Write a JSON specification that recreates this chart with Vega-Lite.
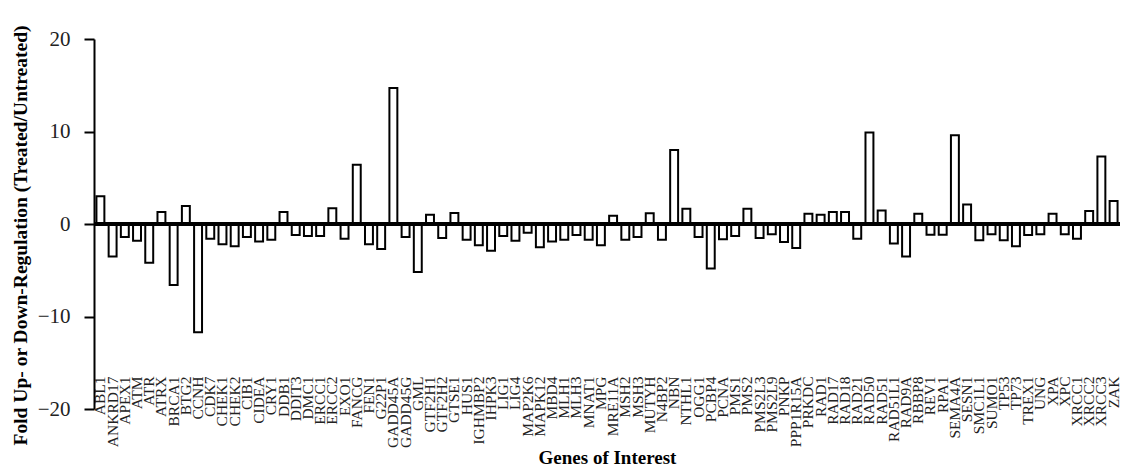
{
  "$schema": "https://vega.github.io/schema/vega-lite/v6.json",
  "autosize": {"type": "none"},
  "padding": {"left": 94, "top": 39, "right": 4, "bottom": 58},
  "width": 1026,
  "height": 370,
  "background": "white",
  "config": {"view": {"stroke": null}},
  "data": {"values": [
    {"gene": "ABL1", "value": 3.0},
    {"gene": "ANKRD17", "value": -3.5},
    {"gene": "APEX1", "value": -1.4},
    {"gene": "ATM", "value": -1.8},
    {"gene": "ATR", "value": -4.2},
    {"gene": "ATRX", "value": 1.3},
    {"gene": "BRCA1", "value": -6.6},
    {"gene": "BTG2", "value": 1.95},
    {"gene": "CCNH", "value": -11.7},
    {"gene": "CDK7", "value": -1.6},
    {"gene": "CHEK1", "value": -2.2},
    {"gene": "CHEK2", "value": -2.4},
    {"gene": "CIB1", "value": -1.4},
    {"gene": "CIDEA", "value": -1.9},
    {"gene": "CRY1", "value": -1.7},
    {"gene": "DDB1", "value": 1.3},
    {"gene": "DDIT3", "value": -1.2},
    {"gene": "DMC1", "value": -1.3},
    {"gene": "ERCC1", "value": -1.3},
    {"gene": "ERCC2", "value": 1.7},
    {"gene": "EXO1", "value": -1.6},
    {"gene": "FANCG", "value": 6.4},
    {"gene": "FEN1", "value": -2.2},
    {"gene": "G22P1", "value": -2.7},
    {"gene": "GADD45A", "value": 14.7},
    {"gene": "GADD45G", "value": -1.4},
    {"gene": "GML", "value": -5.2},
    {"gene": "GTF2H1", "value": 1.0},
    {"gene": "GTF2H2", "value": -1.5},
    {"gene": "GTSE1", "value": 1.2},
    {"gene": "HUS1", "value": -1.7},
    {"gene": "IGHMBP2", "value": -2.3},
    {"gene": "IHPK3", "value": -2.9},
    {"gene": "LIG1", "value": -1.3},
    {"gene": "LIG4", "value": -1.8},
    {"gene": "MAP2K6", "value": -0.95},
    {"gene": "MAPK12", "value": -2.5},
    {"gene": "MBD4", "value": -1.9},
    {"gene": "MLH1", "value": -1.7},
    {"gene": "MLH3", "value": -1.2},
    {"gene": "MNAT1", "value": -1.7},
    {"gene": "MPG", "value": -2.3},
    {"gene": "MRE11A", "value": 0.9},
    {"gene": "MSH2", "value": -1.7},
    {"gene": "MSH3", "value": -1.4},
    {"gene": "MUTYH", "value": 1.15},
    {"gene": "N4BP2", "value": -1.7},
    {"gene": "NBN", "value": 8.0},
    {"gene": "NTHL1", "value": 1.65},
    {"gene": "OGG1", "value": -1.4},
    {"gene": "PCBP4", "value": -4.8},
    {"gene": "PCNA", "value": -1.65},
    {"gene": "PMS1", "value": -1.3},
    {"gene": "PMS2", "value": 1.65},
    {"gene": "PMS2L3", "value": -1.5},
    {"gene": "PMS2L9", "value": -1.1},
    {"gene": "PNKP", "value": -1.95},
    {"gene": "PPP1R15A", "value": -2.6},
    {"gene": "PRKDC", "value": 1.1},
    {"gene": "RAD1", "value": 1.0},
    {"gene": "RAD17", "value": 1.3},
    {"gene": "RAD18", "value": 1.3},
    {"gene": "RAD21", "value": -1.6},
    {"gene": "RAD50", "value": 9.9},
    {"gene": "RAD51", "value": 1.45},
    {"gene": "RAD51L1", "value": -2.1},
    {"gene": "RAD9A", "value": -3.5},
    {"gene": "RBBP8", "value": 1.1},
    {"gene": "REV1", "value": -1.15},
    {"gene": "RPA1", "value": -1.15},
    {"gene": "SEMA4A", "value": 9.6},
    {"gene": "SESN1", "value": 2.1},
    {"gene": "SMC1L1", "value": -1.75},
    {"gene": "SUMO1", "value": -1.1},
    {"gene": "TP53", "value": -1.75},
    {"gene": "TP73", "value": -2.4},
    {"gene": "TREX1", "value": -1.2},
    {"gene": "UNG", "value": -1.1},
    {"gene": "XPA", "value": 1.1},
    {"gene": "XPC", "value": -1.1},
    {"gene": "XRCC1", "value": -1.6},
    {"gene": "XRCC2", "value": 1.4},
    {"gene": "XRCC3", "value": 7.3},
    {"gene": "ZAK", "value": 2.5}
  ]},
  "layer": [
    {
      "mark": {"type": "bar", "fill": "white", "stroke": "black", "strokeWidth": 2},
      "encoding": {
        "x": {
          "field": "gene", "type": "nominal", "sort": null,
          "scale": {"paddingInner": 0.35, "paddingOuter": 0.2},
          "axis": {
            "title": "Genes of Interest",
            "labelAngle": -90,
            "labelFont": "Liberation Serif",
            "labelFontSize": 15.5,
            "labelColor": "#222",
            "labelOverlap": false,
            "ticks": false,
            "domain": false,
            "offset": -35,
            "labelPadding": 2,
            "titleFont": "Liberation Serif",
            "titleFontSize": 19,
            "titleFontWeight": "bold",
            "titleColor": "black",
            "titleY": 89,
            "titleBaseline": "alphabetic"
          }
        },
        "y": {
          "field": "value", "type": "quantitative",
          "scale": {"domain": [-20, 20]},
          "axis": {
            "values": [-20, -10, 0, 10, 20],
            "grid": false,
            "domainColor": "black",
            "domainWidth": 2,
            "tickColor": "black",
            "tickWidth": 2,
            "tickSize": 10,
            "labelFont": "Liberation Serif",
            "labelFontSize": 21,
            "labelColor": "#222",
            "labelPadding": 14,
            "title": "Fold Up- or Down-Regulation (Treated/Untreated)",
            "titleFont": "Liberation Serif",
            "titleFontSize": 19.5,
            "titleFontWeight": "bold",
            "titleColor": "black",
            "titleX": -74,
            "titleY": 196,
            "titleAngle": -90,
            "titleAlign": "center",
            "titleBaseline": "middle"
          }
        }
      }
    },
    {
      "mark": {"type": "rule", "color": "black", "strokeWidth": 2.5},
      "encoding": {"y": {"datum": 0}}
    }
  ]
}
